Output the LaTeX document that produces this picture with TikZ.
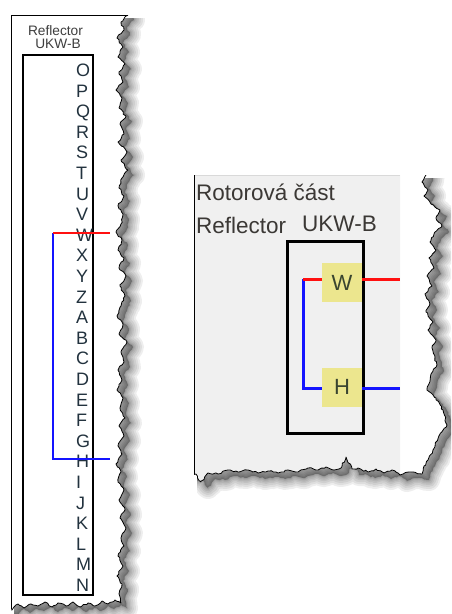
\documentclass[tikz,border=0pt]{standalone}
\usepackage{fontspec}
\setmainfont{Liberation Sans}
\usetikzlibrary{decorations.pathmorphing}
\definecolor{lettercol}{HTML}{22323E}
\definecolor{titlecol}{HTML}{3E3E3E}
\definecolor{rtext}{HTML}{3B3835}
\definecolor{greybg}{HTML}{F0F0F0}
\definecolor{yelbox}{HTML}{ECE68E}
\definecolor{boxtext}{HTML}{3A4530}
\definecolor{wirered}{HTML}{FF1010}
\definecolor{wireblue}{HTML}{1414FF}
\tikzset{
  torn/.style={decorate, decoration={random steps, segment length=2.5pt, amplitude=0.9pt}},
  leftshape/.style={insert path={(0,0) -- (128,0) -- (128,15) -- (121,22) -- (124,30) -- (117,38) -- (123,47) -- (118,57) -- (125,64) -- (119,72) -- (123,82) -- (116,90) -- (122,98) -- (119,108) -- (126,116) -- (120,124) -- (124,134) -- (118,142) -- (127,152) -- (121,160) -- (128,170) -- (122,178) -- (119,188) -- (124,196) -- (118,206) -- (123,214) -- (121,224) -- (116,232) -- (122,240) -- (118,250) -- (124,258) -- (119,268) -- (126,276) -- (120,286) -- (125,296) -- (121,306) -- (117,316) -- (123,324) -- (119,334) -- (127,342) -- (121,352) -- (124,362) -- (118,370) -- (122,380) -- (117,390) -- (123,398) -- (120,408) -- (125,418) -- (119,426) -- (124,436) -- (118,446) -- (122,454) -- (116,464) -- (121,472) -- (118,482) -- (124,490) -- (119,500) -- (125,510) -- (120,518) -- (126,528) -- (121,538) -- (124,546) -- (118,556) -- (123,566) -- (117,576) -- (122,584) -- (119,594) -- (121,603) -- (115,600) -- (108,604) -- (102,601) -- (95,606) -- (88,603) -- (80,607) -- (73,602) -- (66,606) -- (58,603) -- (52,607) -- (45,602) -- (38,606) -- (31,604) -- (24,608) -- (18,604) -- (12,610) -- (0,610) -- cycle}},
  rightshape/.style={insert path={(180,160) -- (426,160) -- (426,175) -- (422,182) -- (428,190) -- (424,196) -- (431,204) -- (440,210) -- (436,218) -- (442,226) -- (434,234) -- (430,242) -- (436,250) -- (429,258) -- (434,268) -- (427,276) -- (432,286) -- (425,294) -- (430,304) -- (426,312) -- (433,322) -- (428,330) -- (436,340) -- (432,348) -- (437,365) -- (431,374) -- (427,390) -- (436,398) -- (443,410) -- (447,425) -- (440,434) -- (433,450) -- (428,460) -- (424,466) -- (422,474) -- (410,472) -- (400,475) -- (392,470) -- (384,473) -- (376,469) -- (368,472) -- (358,468) -- (352,469) -- (346,457) -- (341,468) -- (334,470) -- (326,467) -- (318,470) -- (308,468) -- (298,472) -- (288,470) -- (278,473) -- (268,471) -- (258,473) -- (248,470) -- (238,472) -- (228,470) -- (218,474) -- (208,473) -- (201,482) -- (196,474) -- (180,474) -- cycle}},
  panelline/.style={draw=black, line width=0.8pt, line join=round},
  letter/.style={anchor=base west, inner sep=0pt, text=lettercol, font=\fontsize{18}{20}\selectfont},
  ltitle/.style={inner sep=0pt, anchor=base, text=titlecol, font=\fontsize{13.7}{15}\selectfont},
  rtitle/.style={inner sep=0pt, anchor=base west, text=rtext, font=\fontsize{22.5}{25}\selectfont},
  ybox/.style={fill=yelbox, minimum width=40pt, minimum height=39pt, inner sep=0pt, text=boxtext, font=\fontsize{22}{24}\selectfont},
  wirel/.style={line width=2pt},
  wirer/.style={line width=3pt},
}
\begin{document}
\begin{tikzpicture}[x=1pt, y=-1pt]
\useasboundingbox (0,0) rectangle (451,614);
\fill[white] (0,0) rectangle (451,614);

% ---------- left panel shadow ----------
\begin{scope}
  \clip (14,18) rectangle (451,614);
  \foreach \w in {22,18,14,10,7,4,2} {
    \pgfmathsetseed{11}
    \draw[torn, shift={(6,5)}, draw=black, opacity=0.065, line width=\w pt, line join=round][leftshape];
  }
  \pgfmathsetseed{11}
  \fill[torn, shift={(6,5)}, black, opacity=0.3][leftshape];
\end{scope}
% ---------- left panel ----------
\begin{scope}
  \clip (11,15) rectangle (451,614);
  \pgfmathsetseed{11}
  \fill[torn, white][leftshape];
  \pgfmathsetseed{11}
  \draw[torn, panelline][leftshape];
\end{scope}
\draw[panelline] (11,609) -- (11,15) -- (128,15);

\node[ltitle] (ltitle1) at (55.5,35) {Reflector};
\node[ltitle] (ltitle2) at (58,48) {UKW-B};
\draw[line width=2pt] (23,55) rectangle (93,595);
\foreach \L [count=\i from 0] in {O,P,Q,R,S,T,U,V,W,X,Y,Z,A,B,C,D,E,F,G,H,I,J,K,L,M,N} {
  \node[letter] (l\L) at (76, 76.5+20.6*\i) {\L};
}
\coordinate (lcW) at (53,233);
\coordinate (leW) at (110,233);
\coordinate (lcH) at (53,459);
\coordinate (leH) at (110,459);
\draw[wirel, wireblue] (lcW) -- (lcH) -- (leH);
\draw[wirel, wirered] (lcW) -- (leW);

% ---------- right panel shadow ----------
\begin{scope}
  \clip (197,178) rectangle (451,614);
  \foreach \w in {22,18,14,10,7,4,2} {
    \pgfmathsetseed{22}
    \draw[torn, shift={(7,6)}, draw=black, opacity=0.065, line width=\w pt, line join=round][rightshape];
  }
  \pgfmathsetseed{22}
  \fill[torn, shift={(7,6)}, black, opacity=0.3][rightshape];
\end{scope}
% ---------- right panel ----------
\begin{scope}
  \clip (194,175) rectangle (451,614);
  \pgfmathsetseed{22}
  \fill[torn, white][rightshape];
  \begin{scope}
    \clip (0,0) rectangle (400,614);
    \pgfmathsetseed{22}
    \fill[torn, greybg][rightshape];
  \end{scope}
  \pgfmathsetseed{22}
  \draw[torn, panelline][rightshape];
\end{scope}
\draw[draw=black!15, line width=0.8pt] (194.4,175) -- (400,175);
\draw[panelline] (194.4,474) -- (194.4,175);

\node[rtitle] (rtitle1) at (196,200.5) {Rotorová část};
\node[rtitle] (rtitle2) at (196,233.5) {Reflector};
\node[rtitle] (rtitle3) at (302,231) {UKW-B};

\node[ybox] (W) at (342,282.5) {W};
\node[ybox] (H) at (342,387) {H};
\draw[line width=3pt] (287,241) rectangle (363,433);

\coordinate (rc) at (303,279);
\coordinate (rb) at (303,388);
\coordinate (rW) at (400,279);
\coordinate (rH) at (400,388);
\draw[wirer, wireblue] (rc) -- (rb) -- (H.west |- rb);
\draw[wirer, wireblue] (H.east |- rb) -- (rH);
\draw[wirer, wirered] (rc) -- (W.west |- rc);
\draw[wirer, wirered] (W.east |- rc) -- (rW);
\end{tikzpicture}
\end{document}
